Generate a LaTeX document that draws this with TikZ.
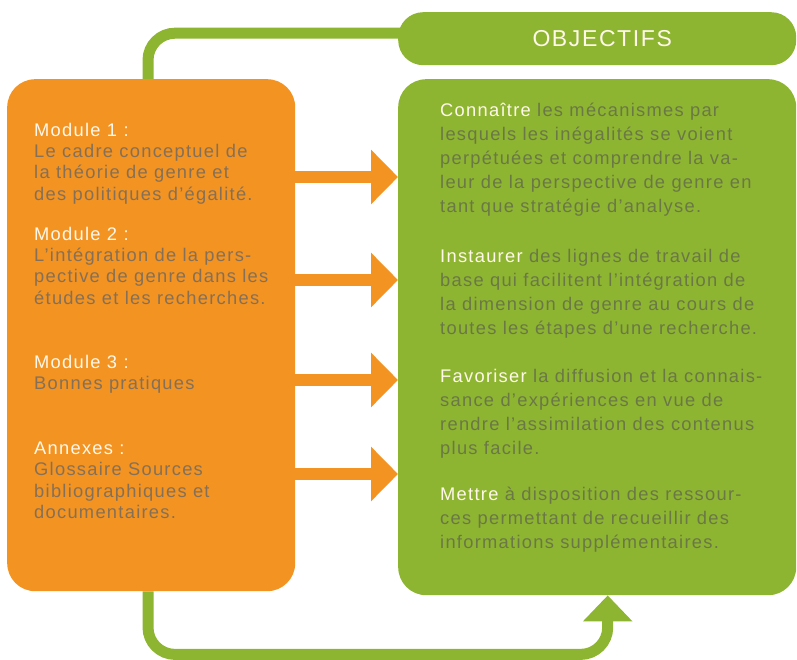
\documentclass[tikz,border=0pt]{standalone}
\usepackage{fontspec}
\setmainfont{Liberation Sans}[LetterSpace=7]
\usepackage{tikz}
\usepackage{xcolor}
\usetikzlibrary{arrows.meta}
\usetikzlibrary{backgrounds}
\definecolor{orangebox}{HTML}{F39322}
\definecolor{greenbox}{HTML}{8EB531}
\definecolor{ortext}{HTML}{857057}
\definecolor{grtext}{HTML}{6A7846}
\definecolor{hdtext}{HTML}{FFF8EA}
\tikzset{box/.style={anchor=north west,inner sep=0,rounded corners=28pt},
 modbox/.style={box,fill=orangebox},
 objbox/.style={box,fill=greenbox},
 modtext/.style={anchor=north west,inner sep=0,align=left,text=ortext,
  font=\fontsize{18.3}{21.3}\selectfont},
 objtext/.style={anchor=north west,inner sep=0,align=left,text=grtext,
  font=\fontsize{18.3}{24}\selectfont},
 link/.style={draw=greenbox,line width=11pt,rounded corners=27pt},
 feed/.style={draw=orangebox,line width=12pt,-{Triangle[width=53pt,length=27pt]}},
 }
\newcommand{\hd}[1]{\textcolor{hdtext}{#1}}

\begin{document}
\begin{tikzpicture}[x=1pt,y=-1pt]
        \useasboundingbox (0,0) rectangle (797,660);
        \node [modbox,minimum width=288pt,minimum height=512pt] (modules) at (7,79) {};
        \node [objbox,minimum width=398pt,minimum height=516pt] (goals) at (398,79) {};
        \node [objbox,minimum width=398pt,minimum height=53pt,rounded corners=25pt,
          text=hdtext,font=\fontsize{23}{24}\selectfont] (title) at (398,12) {\hspace{10pt}OBJECTIFS};
        % modules
        \node [modtext] (mod1) at (34,122.8) {\hd{Module 1 :}\\Le cadre conceptuel de\\la théorie de genre et\\des politiques d’égalité.};
        \node [modtext] (mod2) at (34,226.8) {\hd{Module 2 :}\\L’intégration de la pers-\\pective de genre dans les\\études et les recherches.};
        \node [modtext] (mod3) at (34,354.8) {\hd{Module 3 :}\\Bonnes pratiques};
        \node [modtext] (annex) at (34,441.8) {\hd{Annexes :}\\Glossaire Sources\\bibliographiques et\\documentaires.};
        % objectifs
        \node [objtext] (obj1) at (440,103.3) {\hd{Connaître} les mécanismes par\\lesquels les inégalités se voient\\perpétuées et comprendre la va-\\leur de la perspective de genre en\\tant que stratégie d’analyse.};
        \node [objtext] (obj2) at (440,248.8) {\hd{Instaurer} des lignes de travail de\\base qui facilitent l’intégration de\\la dimension de genre au cours de\\toutes les étapes d’une recherche.};
        \node [objtext] (obj3) at (440,368.8) {\hd{Favoriser} la diffusion et la connais-\\sance d’expériences en vue de\\rendre l’assimilation des contenus\\plus facile.};
        \node [objtext] (obj4) at (440,486.8) {\hd{Mettre} à disposition des ressour-\\ces permettant de recueillir des\\informations supplémentaires.};
        \foreach \y in {177,280,380,474} {
          \coordinate (row) at (0,\y);
          \draw [feed] (modules.east |- row) -- (goals.west |- row);
        }
        \begin{scope}[on background layer]
          \draw [link] ([xshift=141pt]modules.north west) |- ([xshift=12pt,yshift=5.5pt]title.west);
          \draw [link,-{Triangle[width=48pt,length=26pt]}] ([xshift=141pt]modules.south west)
            -- ++(0,63) -| ([xshift=10.5pt]goals.south);
        \end{scope}
    \end{tikzpicture}
\end{document}
